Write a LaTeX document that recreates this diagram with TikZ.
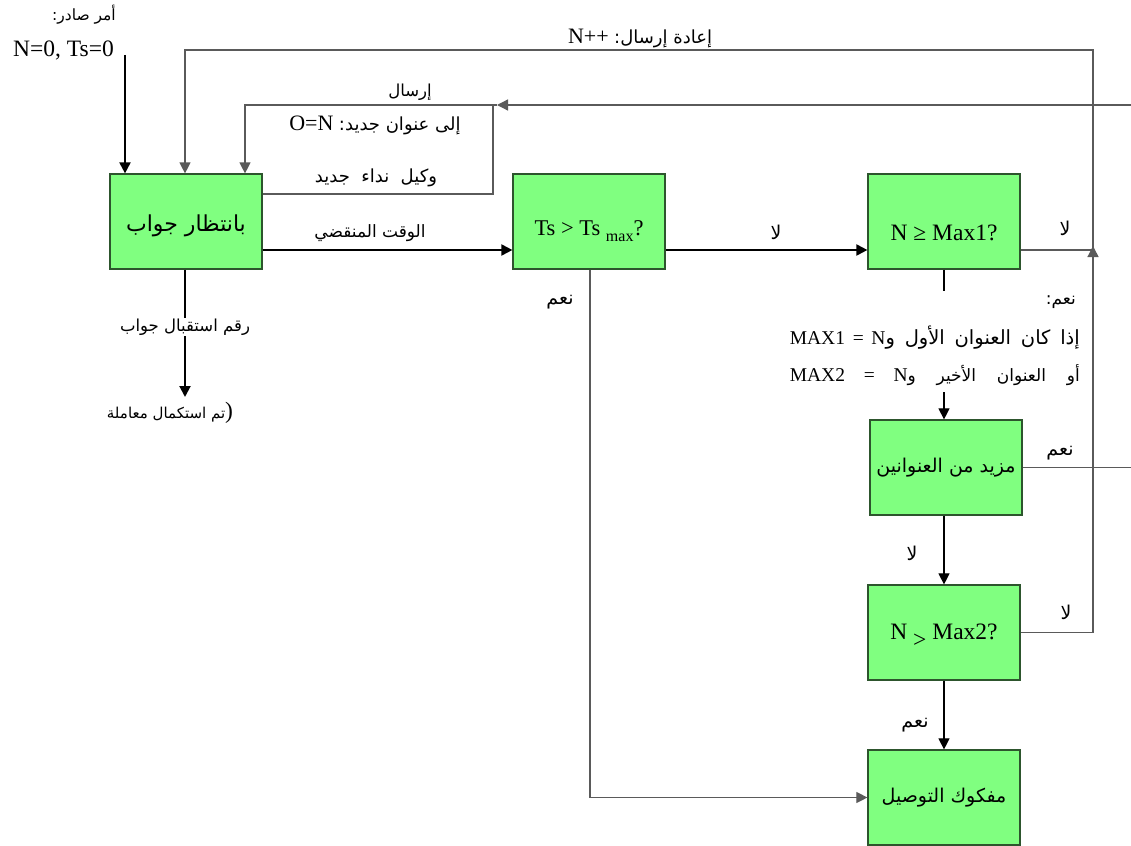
\documentclass[tikz,border=0pt]{standalone}
\usepackage{fontspec}
\setmainfont{Liberation Serif}
\newfontfamily\arabicfont[Script=Arabic]{DejaVu Sans}
\TeXXeTstate=1
\usetikzlibrary{arrows.meta}
\newcommand{\artxt}[2][17]{{\arabicfont\fontsize{#1}{#1}\selectfont\beginR #2\endR}}
\definecolor{boxfill}{RGB}{128,255,128}
\definecolor{boxline}{RGB}{45,85,45}
\definecolor{lgray}{RGB}{90,90,90}
\begin{document}
\begin{tikzpicture}[x=1pt,y=-1pt,
  every node/.style={font=\fontsize{23.5}{26}\selectfont, inner sep=1pt},
  box/.style={draw=boxline, fill=boxfill, line width=1.2pt, minimum width=152pt, minimum height=95pt, inner sep=0pt},
  thick line/.style={draw=black, line width=2pt},
  thin line/.style={draw=lgray, line width=1.3pt},
  blk line/.style={draw=black, line width=1.1pt},
  tip/.style={-{Triangle[length=11pt,width=11pt]}},
  lbl/.style={inner sep=0pt}]
\useasboundingbox (0,0) rectangle (1131,845);
% boxes
\node[box] (A) at (186,221.5) {};
\node[lbl] (Atxt) at ([yshift=-4pt]A.center) {\artxt[22]{بانتظار جواب}};
\node[box] (B) at (589,221.5) {};
\node[lbl, font=\fontsize{22.5}{25}\selectfont] (Btxt) at ([yshift=-10pt]B.center) {Ts > Ts \raisebox{-6pt}{\fontsize{16}{18}\selectfont max}?};
\node[box] (C) at (944,221.5) {};
\node[lbl] (Ctxt) at ([yshift=-11pt]C.center) {N ≥ Max1?};
\node[box] (D) at (946,467.5) {\artxt[19]{مزيد من العنوانين}};
\node[box] (E) at (944,632.5) {};
\node[lbl] (Etxt) at ([yshift=-3pt]E.center) {N \raisebox{-8pt}{>} Max2?};
\node[box] (F) at (944,797.5) {\artxt[19]{مفكوك التوصيل}};
% helper coordinates
\coordinate (start) at (125,55);
\coordinate (yAB) at (0,250);
\coordinate (rt) at (1093,50);
\coordinate (topL) at (185,50);
\coordinate (sendR) at (1140,105);
\coordinate (sendM) at (497,105);
\coordinate (sendL) at (245,105);
\coordinate (ret) at (493,194);
\coordinate (c1) at (944,291);
\coordinate (c2) at (944,392);
\coordinate (fin) at (185,397);
% connectors
\draw[thick line, tip] (start) -- (start |- A.north);
\draw[thick line, tip] (A.east |- yAB) -- (B.west |- yAB);
\draw[thick line, tip] (B.east |- yAB) -- (C.west |- yAB);
\draw[thick line, tip] (A.south -| topL) -- (fin);
\draw[thin line] (C.east |- yAB) -- (rt |- yAB);
\draw[thin line, tip] (E.east) -- (rt |- E.east) -- ([yshift=4pt]rt |- yAB);
\draw[thin line, tip] (rt |- yAB) -- (rt) -- (topL) -- (topL |- A.north);
\draw[thin line, tip] (sendR) -- (sendM);
\draw[thin line, tip] (sendM) -- (sendL) -- (sendL |- A.north);
\draw[thin line] (A.east |- ret) -- (ret) -- (ret |- sendR);
\draw[thin line] (D.east) -- (sendR |- D.east);
\draw[blk line] (C.south) -- (c1);
\draw[blk line, tip] (c2) -- (C.south |- D.north);
\draw[blk line, tip] (E.north |- D.south) -- (E.north);
\draw[blk line, tip] (E.south) -- (F.north);
\draw[thin line, line width=1.1pt, tip] (B.south -| 590,0) -- (590,0 |- F.west) -- (F.west);
% labels
\node[lbl, anchor=east] (t1) at (116,15) {\artxt[15.5]{أمر صادر:}};
\node[lbl, anchor=east] (t2) at (114,50) {N=0, Ts=0};
\node[lbl, font=\fontsize{22}{25}\selectfont] (t3) at (640,38) {N++ \artxt[18]{إعادة إرسال:}};
\node[lbl] (t4) at (410,92) {\artxt[16.5]{إرسال}};
\node[lbl, font=\fontsize{22}{25}\selectfont] (t5) at (375,125) {O=N \artxt[18]{إلى عنوان جديد:}};
\node[lbl] (t6) at (376,178) {\artxt[18]{وكيل\ \ نداء\ \ جديد}};
\node[lbl] (t7) at (370,233) {\artxt{الوقت المنقضي}};
\node[lbl] (t8) at (776,232) {\artxt[19]{لا}};
\node[lbl] (t9) at (1065,228) {\artxt[19]{لا}};
\node[lbl] (t10) at (560,302) {\artxt[19]{نعم}};
\node[lbl, fill=white, inner sep=1pt] (t11) at (185,327) {\artxt[16.5]{رقم استقبال جواب}};
\node[lbl] (t12) at (170,413) {\artxt[15]{تم استكمال معاملة})};
\node[lbl, anchor=east] (t13) at (1076,302) {\artxt{نعم:}};
\node[lbl, anchor=east, font=\fontsize{19.5}{22}\selectfont] (t14) at (1080,338) {\hbox to 290pt{MAX1 = N\artxt[19.5]{إذا كان العنوان الأول و}}};
\node[lbl, anchor=east, font=\fontsize{19.5}{22}\selectfont] (t15) at (1080,375) {\hbox to 290pt{MAX2 = N\artxt{أو العنوان الأخير و}}};
\node[lbl] (t16) at (1060,453) {\artxt[19]{نعم}};
\node[lbl] (t17) at (912,553) {\artxt[19]{لا}};
\node[lbl] (t18) at (1066,612) {\artxt[19]{لا}};
\node[lbl] (t19) at (915,725) {\artxt[19]{نعم}};
\end{tikzpicture}
\end{document}
